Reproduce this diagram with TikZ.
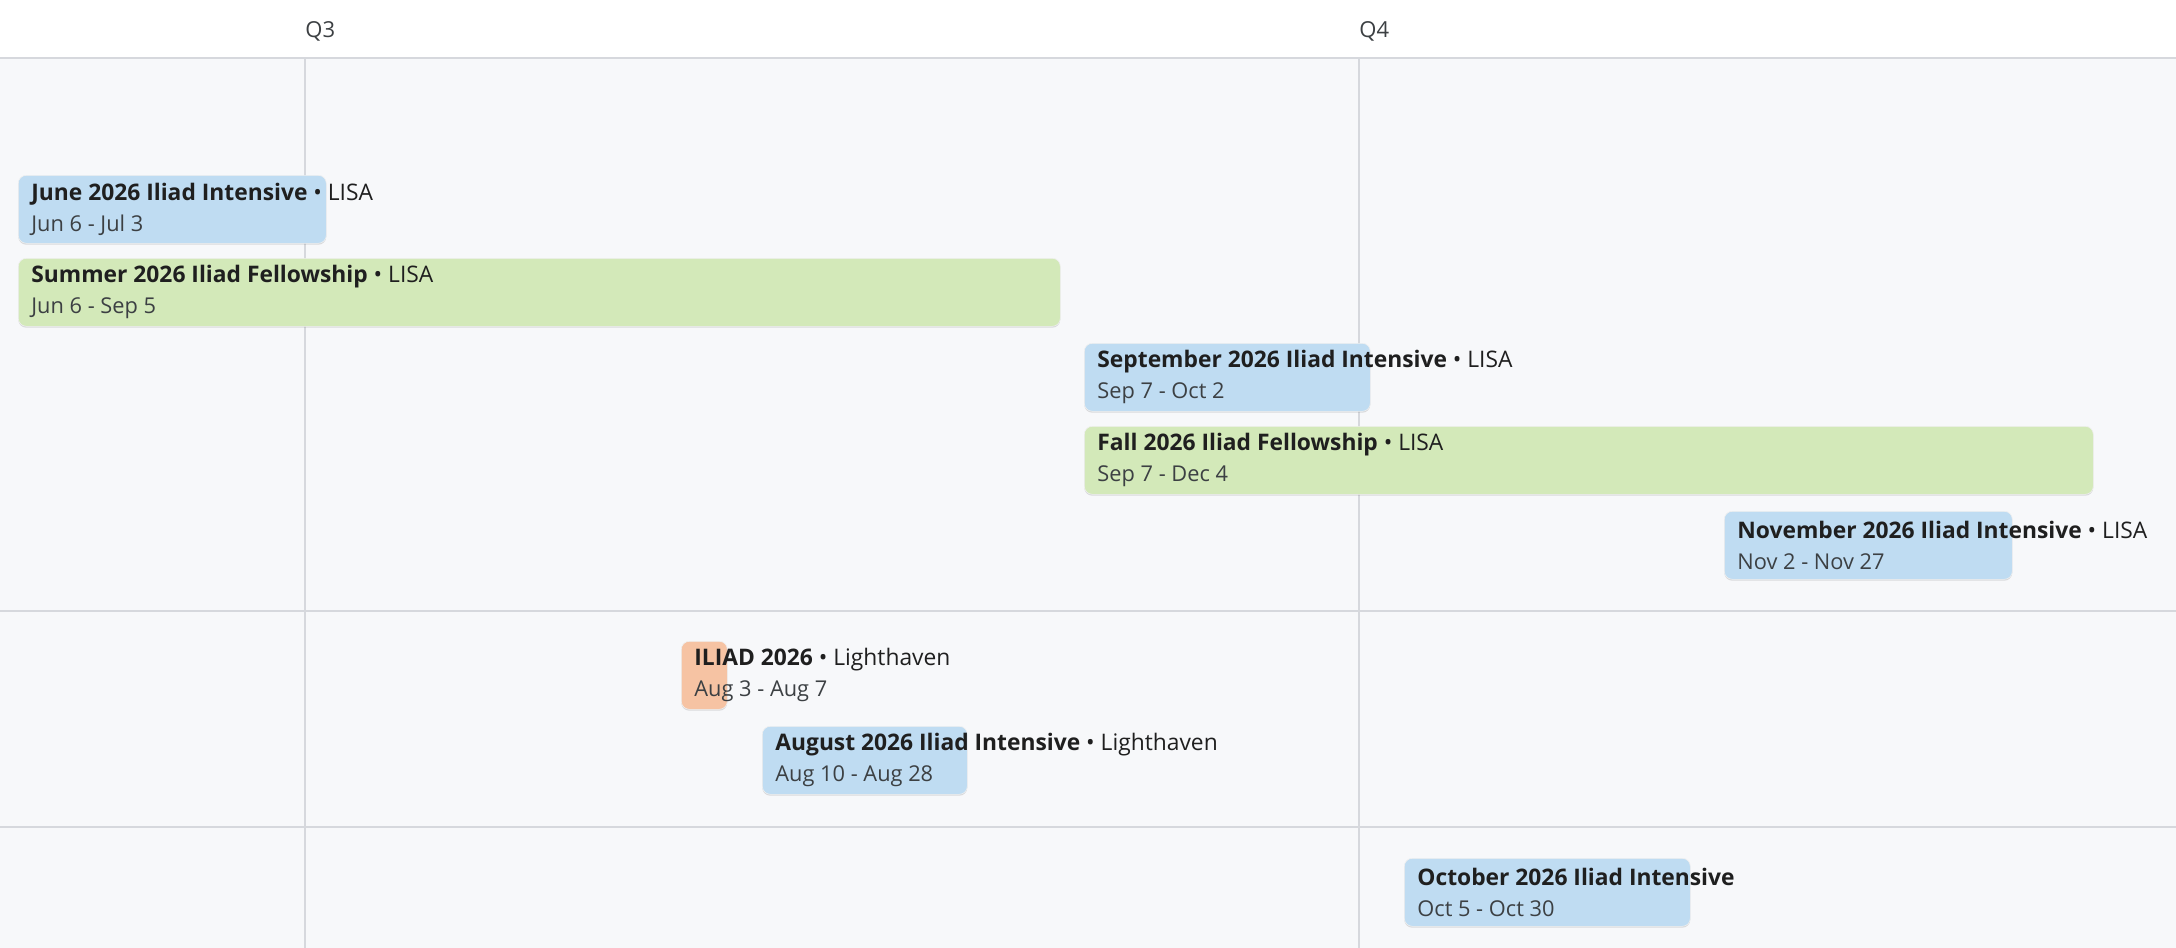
\documentclass[tikz,border=0pt]{standalone}
\usepackage{fontspec}
\setmainfont{Open Sans}
\usepackage{xcolor}
\usepackage{tikz}
\usetikzlibrary{positioning, calc, shadows}

\definecolor{panelbg}{HTML}{F7F8FA}
\definecolor{gridline}{HTML}{D6D8DD}
\definecolor{intensive}{HTML}{BFDCF2}
\definecolor{fellowship}{HTML}{D3E9B9}
\definecolor{conference}{HTML}{F6C3A3}
\definecolor{titletext}{HTML}{1F1F1F}
\definecolor{datetext}{HTML}{3C4043}

\newcommand{\evdate}[1]{{\fontsize{10.9}{15.5}\selectfont\color{datetext}#1}}

\begin{document}
\begin{tikzpicture}[
  x=0.5pt, y=-0.5pt,
  bar/.style={rounded corners=4pt, anchor=north west, minimum height=34pt, inner sep=0pt,
    draw=black!6, line width=0.3pt,
    drop shadow={shadow xshift=0pt, shadow yshift=-0.7pt, opacity=0.12, fill=black}},
  evlabel/.style={anchor=west, align=left, inner sep=0pt, text=titletext,
    font=\fontsize{11.4}{15.5}\selectfont},
  quarter/.style={anchor=west, inner sep=0pt, text=datetext, font=\fontsize{11}{12}\selectfont},
  grid/.style={draw=gridline, line width=0.6pt}
]
\useasboundingbox (0,0) rectangle (2176,948);

% Background and grid
\fill[white] (0,0) rectangle (2176,58);
\fill[panelbg] (0,58) rectangle (2176,948);
\draw[grid] (0,58) -- (2176,58);
\draw[grid] (0,611) -- (2176,611);
\draw[grid] (0,827) -- (2176,827);
\draw[grid] (305,58) -- (305,948);
\draw[grid] (1359,58) -- (1359,948);

% Quarter labels
\node[quarter] (q3) at (305,31) {Q3};
\node[quarter] (q4) at (1359,31) {Q4};

% LISA events
\node[bar, fill=intensive, minimum width=154pt] (june) at (18,175) {};
\node[evlabel] (junelbl) at ([xshift=6.5pt]june.west)
   {\textbf{June 2026 Iliad Intensive} • LISA\\\evdate{Jun 6 - Jul 3}};

\node[bar, fill=fellowship, minimum width=521pt] (summer) at (18,258) {};
\node[evlabel] (summerlbl) at ([xshift=6.5pt]summer.west)
   {\textbf{Summer 2026 Iliad Fellowship} • LISA\\\evdate{Jun 6 - Sep 5}};

\node[bar, fill=intensive, minimum width=143pt] (sept) at (1084,343) {};
\node[evlabel] (septlbl) at ([xshift=6.5pt]sept.west)
   {\textbf{September 2026 Iliad Intensive} • LISA\\\evdate{Sep 7 - Oct 2}};

\node[bar, fill=fellowship, minimum width=504.5pt] (fall) at (1084,426) {};
\node[evlabel] (falllbl) at ([xshift=6.5pt]fall.west)
   {\textbf{Fall 2026 Iliad Fellowship} • LISA\\\evdate{Sep 7 - Dec 4}};

\node[bar, fill=intensive, minimum width=144pt] (nov) at (1724,511) {};
\node[evlabel] (novlbl) at ([xshift=6.5pt]nov.west)
   {\textbf{November 2026 Iliad Intensive} • LISA\\\evdate{Nov 2 - Nov 27}};

% Lighthaven events
\node[bar, fill=conference, minimum width=23pt] (iliad) at (681,641) {};
\node[evlabel] (iliadlbl) at ([xshift=6.5pt]iliad.west)
   {\textbf{ILIAD 2026} • Lighthaven\\\evdate{Aug 3 - Aug 7}};

\node[bar, fill=intensive, minimum width=102.5pt] (aug) at (762,726) {};
\node[evlabel] (auglbl) at ([xshift=6.5pt]aug.west)
   {\textbf{August 2026 Iliad Intensive} • Lighthaven\\\evdate{Aug 10 - Aug 28}};

% Other
\node[bar, fill=intensive, minimum width=143pt] (oct) at (1404,858) {};
\node[evlabel] (octlbl) at ([xshift=6.5pt]oct.west)
   {\textbf{October 2026 Iliad Intensive}\\\evdate{Oct 5 - Oct 30}};

\end{tikzpicture}
\end{document}
